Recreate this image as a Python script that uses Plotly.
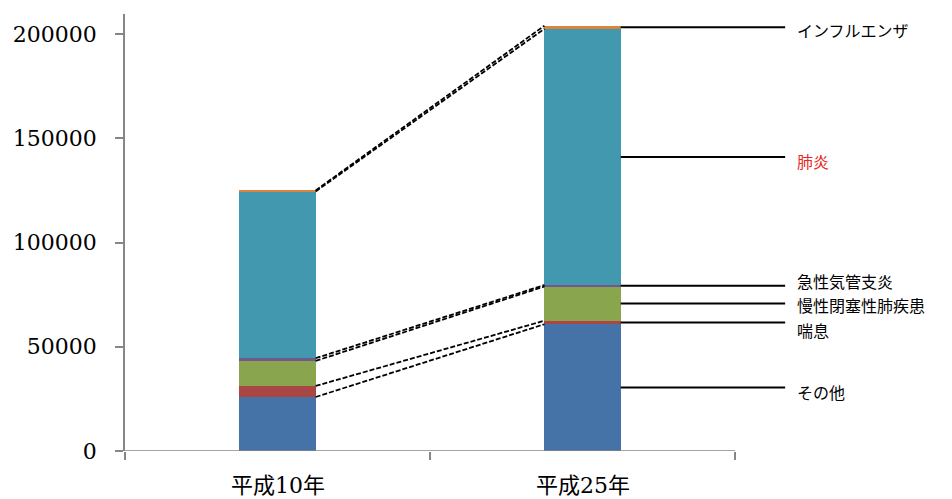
import plotly.graph_objects as go

# Respiratory disease deaths by year (stacked, bottom to top)
years = ["平成10年", "平成25年"]
causes = ["その他", "喘息", "慢性閉塞性肺疾患", "急性気管支炎", "肺炎", "インフルエンザ"]
h10 = [25900, 5300, 12000, 1300, 80000, 500]
h25 = [60800, 1700, 16400, 700, 122900, 1500]
colors = ["#4572A7", "#AA4643", "#89A54E", "#71588F", "#4198AF", "#DB843D"]
label_colors = ["#000000", "#000000", "#000000", "#000000", "#E8281E", "#000000"]
# vertical nudges (px) so the stacked labels near the bottom don't collide
label_shift = [-4, -8, -1, 5, -4, -3]

BAR_W = 0.25
SERIF = "DejaVu Serif, Noto Sans CJK JP"
CJK = "Noto Sans CJK JP, Noto Sans"

fig = go.Figure()
xs = [0, 1]
for name, a, b, c in zip(causes, h10, h25, colors):
    fig.add_trace(go.Bar(x=xs, y=[a, b], name=name, marker_color=c,
                         marker_line_width=0, width=BAR_W, showlegend=False))

# cumulative tops of each segment
cum1, cum2 = [], []
s1 = s2 = 0
for a, b in zip(h10, h25):
    s1 += a
    s2 += b
    cum1.append(s1)
    cum2.append(s2)

# dashed series lines joining segment tops between the two bars
for t1, t2 in zip(cum1, cum2):
    fig.add_trace(go.Scatter(x=[0 + BAR_W / 2, 1 - BAR_W / 2], y=[t1, t2], mode="lines",
                             line=dict(color="black", width=1.8, dash="5px,2px"),
                             showlegend=False, hoverinfo="skip"))

# leader lines and labels to the right of the second bar
LINE_END = 1.664
TEXT_X = 1.697
for i, name in enumerate(causes):
    mid = cum2[i] - h25[i] / 2
    fig.add_shape(type="line", xref="x", yref="y", x0=1 + BAR_W / 2, x1=LINE_END,
                  y0=mid, y1=mid, line=dict(color="black", width=2))
    fig.add_annotation(x=TEXT_X, y=mid, xref="x", yref="y", text=name, showarrow=False,
                       xanchor="left", yanchor="middle", yshift=label_shift[i],
                       font=dict(family=CJK, size=16, color=label_colors[i]))

# category axis: line across the two categories, ticks at category boundaries
fig.add_shape(type="line", xref="x", yref="y", x0=-0.5, x1=1.5, y0=0, y1=0,
              line=dict(color="#868686", width=1.5))
for i, yr in enumerate(years):
    fig.add_annotation(x=xs[i], y=0, xref="x", yref="y", text=yr, showarrow=False,
                       yanchor="middle", yshift=-34,
                       font=dict(family=SERIF, size=22, color="black"))

fig.update_layout(
    barmode="stack",
    width=952, height=499,
    margin=dict(l=125, r=0, t=14, b=48),
    paper_bgcolor="white", plot_bgcolor="white",
    xaxis=dict(range=[-0.5, 2.211], tickvals=[-0.5, 0.5, 1.5], ticktext=["", "", ""],
               ticks="outside", ticklen=8, tickcolor="#868686", tickwidth=1.5,
               showline=False, showgrid=False, zeroline=False, fixedrange=True),
    yaxis=dict(range=[0, 209600], tickvals=[0, 50000, 100000, 150000, 200000],
               ticktext=["0", "50000", "100000", "150000", "200000"],
               ticks="outside", ticklen=8, tickcolor="#868686", tickwidth=1.5,
               showline=True, linecolor="#868686", linewidth=1.5,
               showgrid=False, zeroline=False, ticklabelstandoff=14,
               tickfont=dict(family=SERIF, size=22, color="black")),
)

fig.write_html("out.html")
